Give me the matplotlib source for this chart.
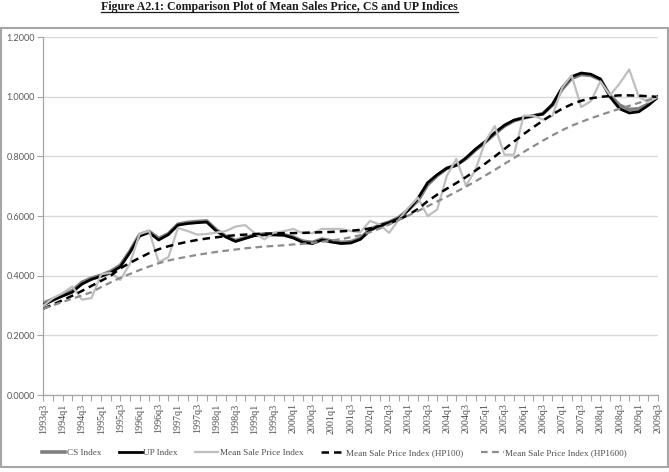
import numpy as np
import matplotlib
matplotlib.use("Agg")
import matplotlib.pyplot as plt
from matplotlib.patches import Rectangle
from matplotlib.lines import Line2D

# quarters 1993q3 .. 2009q3
years = np.repeat(np.arange(1993, 2010), 4)
qtrs = np.tile([1, 2, 3, 4], 17)
quarters = [f"{y}q{q}" for y, q in zip(years, qtrs)][2:-1]

cs_index = [0.308, 0.322, 0.336, 0.350, 0.378, 0.392, 0.402, 0.415, 0.435, 0.482,
            0.538, 0.549, 0.525, 0.541, 0.573, 0.579, 0.582, 0.584, 0.554, 0.532,
            0.518, 0.528, 0.537, 0.540, 0.539, 0.538, 0.530, 0.516, 0.512, 0.523,
            0.517, 0.512, 0.514, 0.526, 0.555, 0.570, 0.580, 0.595, 0.622, 0.652,
            0.705, 0.736, 0.760, 0.772, 0.793, 0.822, 0.848, 0.876, 0.902, 0.920,
            0.929, 0.936, 0.944, 0.972, 1.025, 1.062, 1.075, 1.072, 1.058, 1.005,
            0.972, 0.958, 0.960, 0.976, 1.000]

up_index = [0.302, 0.318, 0.332, 0.345, 0.372, 0.388, 0.398, 0.410, 0.430, 0.478,
            0.533, 0.545, 0.520, 0.538, 0.570, 0.575, 0.578, 0.580, 0.550, 0.530,
            0.515, 0.525, 0.535, 0.537, 0.537, 0.536, 0.527, 0.512, 0.508, 0.520,
            0.513, 0.508, 0.510, 0.522, 0.552, 0.568, 0.578, 0.592, 0.620, 0.660,
            0.712, 0.739, 0.761, 0.770, 0.795, 0.825, 0.850, 0.880, 0.905, 0.922,
            0.930, 0.937, 0.942, 0.975, 1.030, 1.068, 1.080, 1.076, 1.060, 1.000,
            0.960, 0.946, 0.950, 0.972, 1.000]

msp_index = [0.300, 0.325, 0.342, 0.364, 0.320, 0.325, 0.405, 0.410, 0.386, 0.440,
             0.540, 0.550, 0.446, 0.462, 0.560, 0.550, 0.538, 0.540, 0.545, 0.550,
             0.565, 0.570, 0.543, 0.522, 0.545, 0.549, 0.557, 0.543, 0.543, 0.557,
             0.557, 0.557, 0.550, 0.546, 0.584, 0.572, 0.544, 0.588, 0.628, 0.662,
             0.600, 0.622, 0.735, 0.792, 0.702, 0.756, 0.850, 0.902, 0.806, 0.806,
             0.937, 0.937, 0.924, 0.936, 1.030, 1.072, 0.966, 0.985, 1.052, 1.005,
             1.045, 1.092, 1.000, 0.982, 1.000]

hp100 = [0.290, 0.304, 0.318, 0.333, 0.349, 0.366, 0.383, 0.400, 0.425, 0.443,
         0.460, 0.476, 0.489, 0.499, 0.507, 0.514, 0.520, 0.525, 0.529, 0.533,
         0.536, 0.538, 0.540, 0.541, 0.542, 0.543, 0.543, 0.544, 0.545, 0.546,
         0.547, 0.549, 0.551, 0.554, 0.559, 0.566, 0.575, 0.588, 0.604, 0.624,
         0.650, 0.672, 0.692, 0.711, 0.731, 0.753, 0.776, 0.800, 0.825, 0.850,
         0.875, 0.898, 0.920, 0.941, 0.960, 0.975, 0.987, 0.995, 1.000, 1.003,
         1.005, 1.005, 1.004, 1.002, 1.000]

hp1600 = [0.290, 0.301, 0.312, 0.323, 0.334, 0.345, 0.362, 0.378, 0.393, 0.406,
          0.419, 0.431, 0.442, 0.451, 0.458, 0.464, 0.470, 0.475, 0.480, 0.484,
          0.488, 0.492, 0.495, 0.498, 0.500, 0.502, 0.505, 0.507, 0.510, 0.514,
          0.518, 0.523, 0.529, 0.536, 0.546, 0.558, 0.572, 0.587, 0.602, 0.617,
          0.633, 0.649, 0.665, 0.682, 0.699, 0.717, 0.736, 0.755, 0.775, 0.795,
          0.815, 0.834, 0.853, 0.871, 0.888, 0.903, 0.916, 0.928, 0.939, 0.950,
          0.960, 0.970, 0.980, 0.990, 1.000]

series_names = ["CS Index", "UP Index", "Mean Sale Price Index",
                "Mean Sale Price Index (HP100)", "Mean Sale Price Index (HP1600)"]

SERIF = ["Liberation Serif", "DejaVu Serif"]


def main():
    fig = plt.figure(figsize=(6.69, 4.72), dpi=100)
    ax = fig.add_axes([0.065, 0.1631, 0.9186, 0.758])

    x = np.arange(len(quarters))
    ax.plot(x, cs_index, color="#7f7f7f", lw=2.6, label=series_names[0], zorder=3)
    ax.plot(x, up_index, color="#000000", lw=2.0, label=series_names[1], zorder=4)
    ax.plot(x, msp_index, color="#bfbfbf", lw=1.6, label=series_names[2], zorder=5)
    ax.plot(x, hp100, color="#000000", lw=1.8, ls=(0, (3, 2)),
            label=series_names[3], zorder=6)
    ax.plot(x, hp1600, color="#8c8c8c", lw=1.6, ls=(0, (3, 2)),
            label=series_names[4], zorder=6)

    ax.set_xlim(0, len(quarters) - 1)
    ax.set_ylim(0, 1.2)
    ax.set_yticks(np.arange(0, 1.21, 0.2))
    ax.set_yticklabels([f"{v:.4f}" for v in np.arange(0, 1.21, 0.2)],
                       family=["Lato", "DejaVu Sans"], fontsize=6.6, color="#595959")
    ax.set_xticks(x)
    ax.set_xticklabels([q if i % 2 == 0 else "" for i, q in enumerate(quarters)],
                       rotation=90, family=SERIF, fontsize=7.2, color="#4d4d4d")
    ax.tick_params(axis="both", length=4, width=0.8, color="#a6a6a6", pad=2)
    ax.grid(axis="y", color="#d9d9d9", lw=1.0)
    ax.set_axisbelow(True)
    for side in ("top", "right"):
        ax.spines[side].set_visible(False)
    for side in ("left", "bottom"):
        ax.spines[side].set_color("#a6a6a6")
        ax.spines[side].set_linewidth(0.9)

    fig.legend(*ax.get_legend_handles_labels(), loc="center",
               bbox_to_anchor=(0.5, 0.04), ncol=5, frameon=False,
               prop={"family": SERIF, "size": 6.6}, labelcolor="#4d4d4d",
               handlelength=2.5, handletextpad=0.2, columnspacing=1.9)

    # chart area border
    fig.patches.append(Rectangle((0.001, 0.0106), 0.998, 0.93, transform=fig.transFigure,
                                 fill=False, edgecolor="#a6a6a6", lw=1.5))

    title = fig.text(0.418, 0.997, "Figure A2.1: Comparison Plot of Mean Sales Price, CS and UP Indices",
                     ha="center", va="top", family=SERIF, fontweight="bold",
                     fontsize=8.6, color="#1a1a1a")
    fig.canvas.draw()
    bb = title.get_window_extent().transformed(fig.transFigure.inverted())
    fig.add_artist(Line2D([bb.x0, bb.x1], [bb.y0 + 0.002, bb.y0 + 0.002],
                          transform=fig.transFigure, color="#1a1a1a", lw=0.9))

    fig.savefig("out.png", dpi=100)


if __name__ == "__main__":
    main()
